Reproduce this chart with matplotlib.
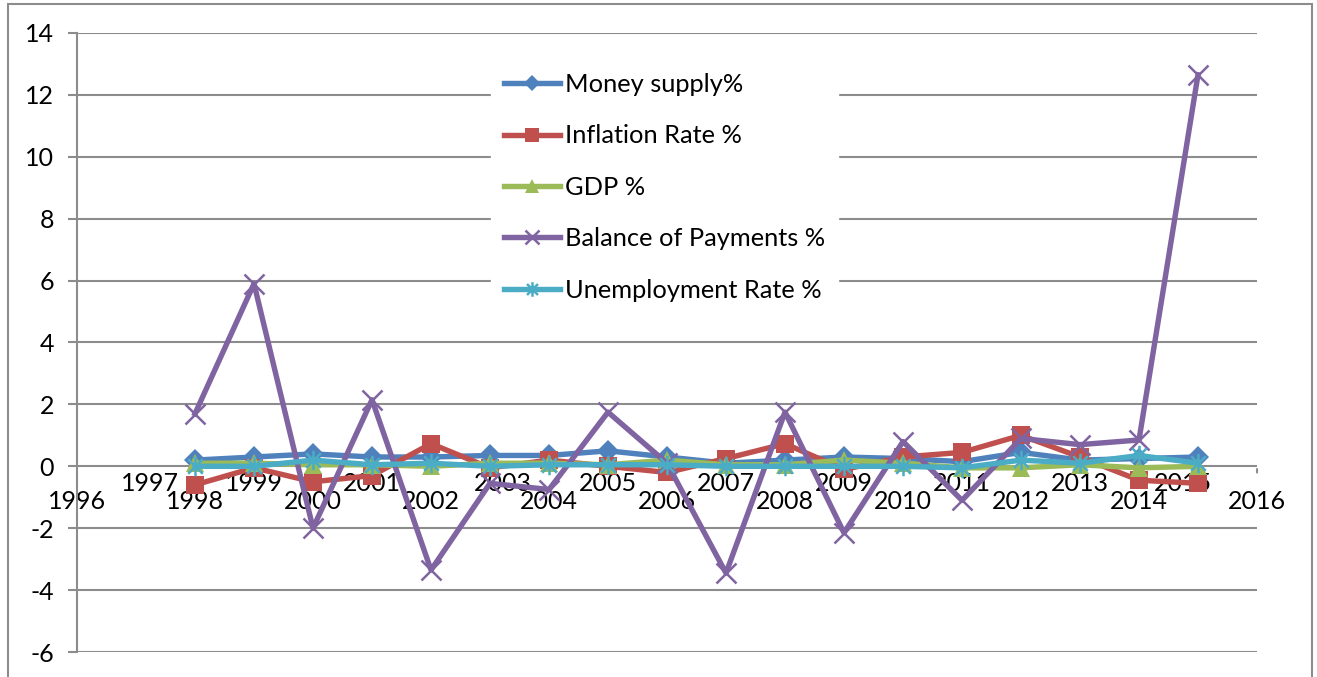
import matplotlib
matplotlib.use("Agg")
import matplotlib.pyplot as plt
from matplotlib.path import Path
from matplotlib.patches import Rectangle

plt.rcParams['font.family'] = ['Lato', 'DejaVu Sans']

years = list(range(1998, 2016))
money_supply = [0.2, 0.3, 0.4, 0.3, 0.3, 0.35, 0.35, 0.5, 0.3, 0.1, 0.2, 0.3,
                0.25, 0.15, 0.45, 0.2, 0.25, 0.3]
inflation = [-0.6, -0.05, -0.5, -0.3, 0.73, -0.05, 0.2, 0.0, -0.2, 0.25, 0.73,
             -0.1, 0.3, 0.45, 1.0, 0.3, -0.45, -0.55]
gdp = [0.1, 0.1, 0.05, 0.05, 0.0, 0.1, 0.1, 0.05, 0.2, 0.05, 0.05, 0.2,
       0.1, -0.05, -0.05, 0.05, -0.05, 0.0]
balance_of_payments = [1.7, 5.9, -2.0, 2.15, -3.35, -0.55, -0.75, 1.75, 0.1,
                       -3.45, 1.75, -2.15, 0.8, -1.1, 0.9, 0.7, 0.85, 12.65]
unemployment = [0.0, 0.0, 0.2, 0.05, 0.1, 0.0, 0.05, 0.05, 0.05, 0.0, 0.0,
                0.0, 0.0, -0.05, 0.2, 0.1, 0.35, 0.1]

series_labels = ["Money supply%", "Inflation Rate %", "GDP %",
                 "Balance of Payments %", "Unemployment Rate %"]
x_ticks = list(range(1996, 2017))
y_ticks = list(range(-6, 15, 2))

# horizontal nudges (points) for crowded year labels
label_nudge = {1997: 10, 2003: 9, 2015: -11}

# asterisk marker: vertical stroke plus two diagonals
star = Path([(0, -1), (0, 1), (-0.75, -0.75), (0.75, 0.75),
             (-0.75, 0.75), (0.75, -0.75)],
            [Path.MOVETO, Path.LINETO, Path.MOVETO, Path.LINETO,
             Path.MOVETO, Path.LINETO])

styles = [
    dict(color="#4F81BD", marker="D", ms=11, mew=0),
    dict(color="#C0504D", marker="s", ms=13, mew=0),
    dict(color="#9BBB59", marker="^", ms=13, mew=0),
    dict(color="#8064A2", marker="x", ms=14, mew=1.8),
    dict(color="#4BACC6", marker=star, ms=14, mew=1.8),
]

fig = plt.figure(figsize=(13.17, 6.77), dpi=100)
ax = fig.add_axes([77 / 1317, 25 / 677, 1180 / 1317, 619 / 677])

grid_col = "#8C8C8C"
for v in y_ticks:
    ax.axhline(v, color=grid_col, lw=1.5, zorder=1)

data = [money_supply, inflation, gdp, balance_of_payments, unemployment]
for vals, lab, st in zip(data, series_labels, styles):
    ax.plot(years, vals, label=lab, lw=3.9, color=st["color"],
            marker=st["marker"], markersize=st["ms"],
            markeredgewidth=st["mew"], markeredgecolor=st["color"],
            markerfacecolor=st["color"], zorder=3, solid_joinstyle="round")

ax.set_xlim(x_ticks[0], x_ticks[-1])
ax.set_ylim(y_ticks[0], y_ticks[-1])

for side in ["top", "right", "bottom"]:
    ax.spines[side].set_visible(False)
ax.spines["left"].set_color(grid_col)
ax.spines["left"].set_linewidth(1.5)

ax.set_yticks(y_ticks)
ax.set_yticklabels([str(v) for v in y_ticks])
ax.tick_params(axis="y", length=6.5, width=1.5, color=grid_col, pad=10,
               labelsize=18)
ax.set_xticks([x_ticks[-1]])
ax.set_xticklabels([""])
ax.tick_params(axis="x", length=0)

# year labels along the zero line, staggered in two rows
for yr in x_ticks:
    off = -12.5 if yr % 2 else -25
    ax.annotate(str(yr), xy=(yr, 0), xytext=(label_nudge.get(yr, 0), off),
                textcoords="offset points", ha="center", va="center",
                fontsize=18, color="black", annotation_clip=False, zorder=2)
# closing tick at the right end of the zero line
ax.annotate("", xy=(x_ticks[-1], 0), xytext=(0, -6.5),
            textcoords="offset points",
            arrowprops=dict(arrowstyle="-", color=grid_col, lw=1.5),
            annotation_clip=False)

leg = ax.legend(loc="upper left", bbox_to_anchor=(0.351, 0.956),
                borderaxespad=0, frameon=True, fancybox=False,
                facecolor="white", edgecolor="white", framealpha=1,
                fontsize=18.3, handlelength=2.2, handletextpad=0.2,
                labelspacing=1.12, borderpad=0.5, markerscale=0.75)
leg.set_zorder(5)

fig.patches.append(Rectangle((8 / 1317, -0.05), 1304 / 1317, 1.05 - 4 / 677,
                             transform=fig.transFigure, fill=False,
                             edgecolor=grid_col, lw=1.5))

fig.savefig("out.png", dpi=100)
